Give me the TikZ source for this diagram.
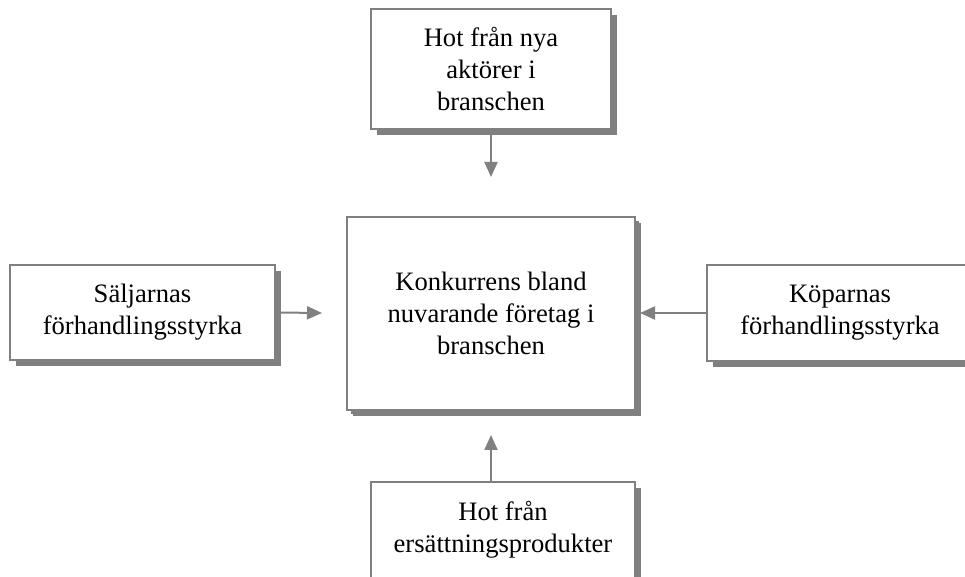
\documentclass[tikz,border=0pt]{standalone}
\usepackage{fontspec}
\setmainfont{Liberation Serif}
\usetikzlibrary{arrows.meta,shadows}
\definecolor{ramgra}{RGB}{128,128,128}
\tikzset{
  ruta/.style={draw=ramgra,line width=0.8pt,fill=white,align=center,inner sep=0pt,
    font=\fontsize{13.3}{16}\selectfont,
    drop shadow={shadow xshift=3pt,shadow yshift=-3pt,fill=ramgra,opacity=1}},
  pil/.style={draw=ramgra,line width=1pt,-{Triangle[length=7.5pt,width=6.5pt]}}
}
\begin{document}
\begin{tikzpicture}[x=0.5pt,y=-0.5pt]
\useasboundingbox (0,0) rectangle (965,577);
%\draw[help lines] (0,0) grid (965,577);
\node[ruta,minimum width=120pt,minimum height=60pt] (nya) at (491,69) {Hot från nya\\aktörer i\\branschen};
\node[ruta,minimum width=144pt,minimum height=96.5pt,
  drop shadow={shadow xshift=2pt,shadow yshift=-2pt,fill=ramgra,opacity=1}] (konk) at (491,313.5) {Konkurrens bland\\nuvarande företag i\\branschen};
\node[ruta,minimum width=132.5pt,minimum height=47.5pt] (salj) at (142.5,312.5) {Säljarnas\\förhandlingsstyrka};
\node[ruta,minimum width=133pt,minimum height=48pt] (kop) at (840,313) {Köparnas\\förhandlingsstyrka};
\node[ruta,minimum width=132pt,minimum height=48pt] (ers) at (503,530) {Hot från\\ersättningsprodukter};
\coordinate (nyaspets) at (491,177);
\coordinate (saljspets) at (322,313);
\coordinate (kopspets) at (640,313);
\coordinate (ersspets) at (491,435);
\draw[pil] (nya.south) -- (nyaspets);
\draw[pil] (salj.east) -- (saljspets);
\draw[pil] (kop.west) -- (kopspets);
\draw[pil] (ers.north -| ersspets) -- (ersspets);
\end{tikzpicture}
\end{document}
